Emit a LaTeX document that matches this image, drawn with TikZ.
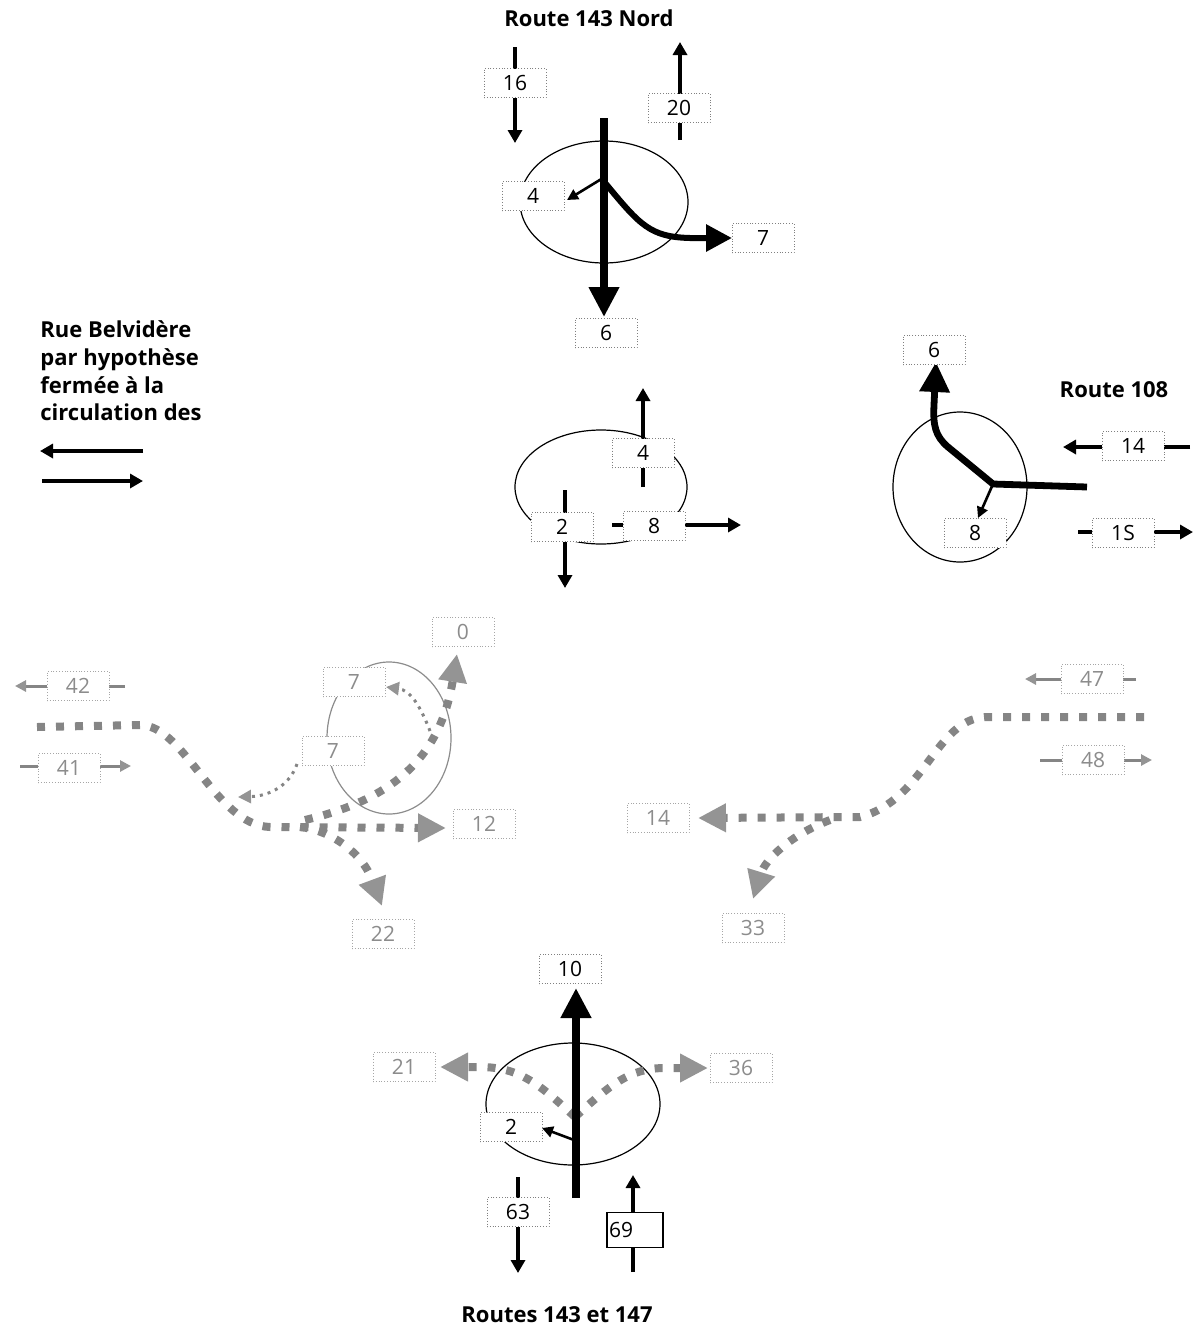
\documentclass[tikz,border=0pt]{standalone}
\usepackage{fontspec}
\setmainfont{Open Sans}
\usetikzlibrary{arrows.meta,backgrounds}
\definecolor{dotg}{gray}{0.52}
\definecolor{headg}{gray}{0.58}
\definecolor{txtg}{gray}{0.55}
\definecolor{bord}{gray}{0.5}
\begin{document}
\begin{tikzpicture}[x=0.5pt,y=-0.5pt,
  titlestyle/.style={font=\bfseries\fontsize{11}{13}\selectfont},
  box/.style={draw=bord, dash pattern=on 0.5pt off 0.9pt, line width=0.5pt, fill=white,
    minimum width=31pt, minimum height=14.5pt, inner sep=0pt, font=\fontsize{10.5}{11}\selectfont},
  gbox/.style={box, draw=bord!70, text=txtg},
  ell/.style={draw=black, line width=0.6pt},
  gell/.style={draw=txtg, line width=0.6pt},
  tarrow/.style={line width=2pt, -{Triangle[length=6.5pt,width=7pt]}},
  sarrow/.style={line width=1.3pt, -{Triangle[length=5.5pt,width=5.5pt]}},
  marrow/.style={line width=3pt, -{Triangle[length=13pt,width=13pt]}},
  barrow/.style={line width=3.6pt, -{Triangle[length=15pt,width=14.5pt]}},
  garrow/.style={draw=dotg, line width=1.5pt, -{Triangle[length=5.5pt,width=5.5pt,fill=headg,color=headg]}},
  gdots/.style={draw=dotg, line width=4pt, dash pattern=on 4pt off 5.5pt,
    -{Triangle[length=14pt,width=13.5pt,fill=headg,color=headg]}},
  gsdots/.style={draw=dotg, line width=1.5pt, dash pattern=on 1.5pt off 2.5pt,
    -{Triangle[length=6.5pt,width=6.5pt,fill=headg,color=headg]}}
]
\useasboundingbox (0,0) rectangle (1194,1329);

% ---------------- Top intersection: Route 143 Nord
\node[titlestyle] (t1) at (589,18) {Route 143 Nord};
\node[box] (n16) at (515,83) {16};
\node[box] (n20) at (679,108) {20};
\node[box] (n4a) at (533,196) {4};
\node[box] (n7a) at (763,238) {7};
\node[box] (n6a) at (606,333) {6};
\coordinate (e1) at (604,202);
\coordinate (c16a) at (515,47);  \coordinate (c16b) at (515,143);
\coordinate (c20a) at (680,140); \coordinate (c20b) at (680,42);
\coordinate (cTa) at (604,118);  \coordinate (cTb) at (604,317);
\coordinate (cTj) at (603,178);  \coordinate (cT4) at (567,200);
\coordinate (cT7s) at (606,184); \coordinate (cT7) at (732,238);

% ---------------- Left text
\node[titlestyle, anchor=base west, inner sep=0pt] (r1) at (40,337) {Rue Belvidère};
\node[titlestyle, anchor=base west, inner sep=0pt] (r2) at (40,365) {par hypothèse};
\node[titlestyle, anchor=base west, inner sep=0pt] (r3) at (40,393) {fermée à la};
\node[titlestyle, anchor=base west, inner sep=0pt] (r4) at (40,420) {circulation des};
\coordinate (la) at (143,451); \coordinate (lb) at (40,451);
\coordinate (lc) at (42,481);  \coordinate (ld) at (143,481);

% ---------------- Middle intersection
\node[box] (m4) at (643,453) {4};
\node[box] (m2) at (562,527) {2};
\node[box] (m8) at (654,526) {8};
\coordinate (e2) at (601,487);
\coordinate (m4a) at (643,487); \coordinate (m4b) at (643,388);
\coordinate (m2a) at (565,490); \coordinate (m2b) at (565,588);
\coordinate (m8a) at (612,525); \coordinate (m8b) at (741,525);

% ---------------- Route 108
\node[titlestyle] (t2) at (1114,390) {Route 108};
\node[box] (r6) at (934,350) {6};
\node[box] (r8) at (975,533) {8};
\node[box] (r14) at (1133,446) {14};
\node[box] (r15) at (1123,533) {1S};
\coordinate (e3) at (960,487);
\coordinate (rs) at (1087,487); \coordinate (rj) at (993,484);
\coordinate (r6t) at (936,362); \coordinate (r8t) at (978,518);
\coordinate (r14a) at (1190,447); \coordinate (r14b) at (1063,447);
\coordinate (r15a) at (1078,532); \coordinate (r15b) at (1193,532);

% ---------------- Grey left
\node[gbox] (g0) at (463,632) {0};
\node[gbox] (g7a) at (354,682) {7};
\node[gbox] (g7b) at (333,751) {7};
\node[gbox] (g12) at (484,824) {12};
\node[gbox] (g22) at (383,934) {22};
\node[gbox] (g42) at (78,686) {42};
\node[gbox] (g41) at (69,768) {41};
\coordinate (e4) at (389,738);
\coordinate (g42a) at (125,686); \coordinate (g42b) at (15,686);
\coordinate (g41a) at (20,766);  \coordinate (g41b) at (131,766);
\coordinate (gls) at (37,727);   \coordinate (glm) at (140,725);
\coordinate (glj) at (270,827);  \coordinate (gl12) at (446,828);
\coordinate (glb) at (300,827);  \coordinate (gl22) at (382,906);
\coordinate (glc) at (305,820);  \coordinate (gl0) at (457,654);
\coordinate (gld) at (297,764);  \coordinate (gld2) at (238,797);
\coordinate (gle) at (430,731);  \coordinate (gle2) at (386,687);

% ---------------- Grey right
\node[gbox] (h47) at (1092,679) {47};
\node[gbox] (h48) at (1093,760) {48};
\node[gbox] (h14) at (658,818) {14};
\node[gbox] (h33) at (753,928) {33};
\coordinate (h47a) at (1136,679); \coordinate (h47b) at (1025,679);
\coordinate (h48a) at (1040,760); \coordinate (h48b) at (1152,760);
\coordinate (hrs) at (1144,717); \coordinate (hrm) at (985,717);
\coordinate (hrj) at (860,817);  \coordinate (hr14) at (698,818);
\coordinate (hrb) at (830,820);  \coordinate (hr33) at (753,899);

% ---------------- Bottom: Routes 143 et 147
\node[box] (b10) at (570,969) {10};
\node[box] (b2) at (511,1127) {2};
\node[gbox] (b21) at (404,1067) {21};
\node[gbox] (b36) at (741,1068) {36};
\node[box] (b63) at (518,1212) {63};
\node[draw=black, line width=0.6pt, fill=white, minimum width=28pt, minimum height=17.5pt,
  inner sep=0pt] (b69) at (635,1230) {};
\node[anchor=west, inner sep=0pt, font=\fontsize{10.5}{11}\selectfont] (b69t) at ([xshift=1.2pt]b69.west) {69};
\node[titlestyle] (t3) at (557,1315) {Routes 143 et 147};
\coordinate (e5) at (573,1104);
\coordinate (bTa) at (576,1198); \coordinate (bTb) at (576,988);
\coordinate (bj) at (574,1140);  \coordinate (b2t) at (542,1128);
\coordinate (bc) at (575,1117);
\coordinate (b21t) at (440,1067); \coordinate (b36t) at (708,1068);
\coordinate (b63a) at (518,1177); \coordinate (b63b) at (518,1273);
\coordinate (b69a) at (633,1272); \coordinate (b69b) at (633,1175);

\begin{scope}[on background layer]
  % ellipses
  \draw[ell] (e1) ellipse [x radius=42pt, y radius=30.5pt];
  \draw[ell] (e2) ellipse [x radius=43pt, y radius=28.5pt];
  \draw[ell] (e3) ellipse [x radius=33.5pt, y radius=37.5pt];
  \draw[gell] (e4) ellipse [x radius=31pt, y radius=38pt];
  \draw[ell] (e5) ellipse [x radius=43.5pt, y radius=30.5pt];

  % grey dotted flows left
  \draw[gdots] (gls) -- (glm) .. controls (185,725) and (215,825) .. (glj) -- (gl12);
  \draw[gdots] (glb) .. controls (330,830) and (362,852) .. (gl22);
  \draw[gdots] (glc) .. controls (390,800) and (440,760) .. (gl0);
  \draw[gsdots] (gld) .. controls (290,785) and (270,796) .. (gld2);
  \draw[gsdots] (gle) .. controls (420,705) and (410,690) .. (gle2);
  \draw[garrow] (g42a) -- (g42b);
  \draw[garrow] (g41a) -- (g41b);

  % grey dotted flows right
  \draw[gdots] (hrs) -- (hrm) .. controls (935,720) and (925,800) .. (hrj) -- (hr14);
  \draw[gdots] (hrb) .. controls (790,835) and (765,860) .. (hr33);
  \draw[garrow] (h47a) -- (h47b);
  \draw[garrow] (h48a) -- (h48b);

  % grey dotted bottom
  \draw[gdots] (bc) .. controls (540,1085) and (520,1067) .. (480,1067) -- (b21t);
  \draw[gdots] (bc) .. controls (610,1085) and (630,1068) .. (665,1068) -- (b36t);

  % black arrows top
  \draw[tarrow] (c16a) -- (c16b);
  \draw[tarrow] (c20a) -- (c20b);
  \draw[barrow] (cTa) -- (cTb);
  \draw[marrow] (cT7s) .. controls (640,225) and (650,237) .. (690,238) -- (cT7);
  \draw[sarrow] (cTj) -- (cT4);

  % left legend arrows
  \draw[tarrow] (la) -- (lb);
  \draw[tarrow] (lc) -- (ld);

  % middle
  \draw[tarrow] (m4a) -- (m4b);
  \draw[tarrow] (m2a) -- (m2b);
  \draw[tarrow] (m8a) -- (m8b);

  % route 108
  \draw[barrow, line width=3.4pt] (rs) -- (rj) -- (948,447) .. controls (935,436) and (933,425) .. (934,405) -- (r6t);
  \draw[sarrow] (rj) -- (r8t);
  \draw[tarrow] (r14a) -- (r14b);
  \draw[tarrow] (r15a) -- (r15b);

  % bottom
  \draw[barrow, line width=4.2pt] (bTa) -- (bTb);
  \draw[sarrow] (bj) -- (b2t);
  \draw[tarrow] (b63a) -- (b63b);
  \draw[tarrow] (b69a) -- (b69b);
\end{scope}
\end{tikzpicture}
\end{document}
